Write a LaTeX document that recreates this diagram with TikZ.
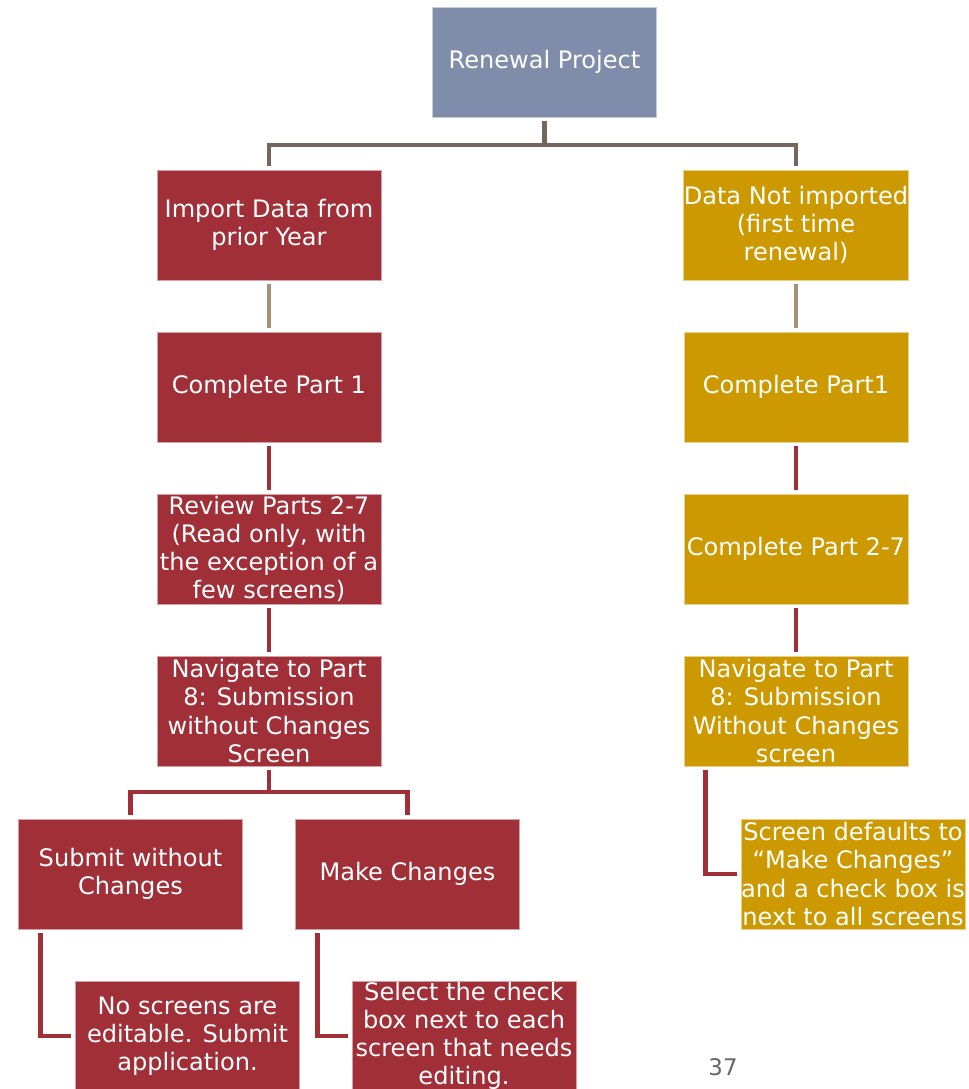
\documentclass[tikz,border=0pt]{standalone}
\usepackage{fontspec}
\setmainfont{DejaVu Sans}
\usepackage{xcolor}
\usepackage{tikz}

\definecolor{boxred}{HTML}{A12F38}
\definecolor{boxgold}{HTML}{CC9900}
\definecolor{boxslate}{HTML}{7F8CAA}
\definecolor{linebrown}{HTML}{76655A}
\definecolor{linetan}{HTML}{A89074}

\begin{document}
\begin{tikzpicture}[x=0.02cm, y=-0.02cm,
  box/.style={rectangle, fill=#1, draw=white!55!#1, line width=0.4pt,
    minimum width=4.48cm, minimum height=2.2cm, inner sep=0pt, outer sep=2.4pt,
    align=center, text=white, font=\fontsize{13.7}{16}\selectfont},
  link/.style={draw=#1, line width=2.7pt}]
  \useasboundingbox (0,0) rectangle (969,1089);
  % top of the tree
  \node[box=boxslate] (root) at (544.5,62) {Renewal Project};
  \coordinate (fork) at (544.5,145);
  % the imported branch
  \node[box=boxred] (imp) at (269,225) {Import Data from\\prior Year};
  \node[box=boxred] (cpa) at (269,387) {Complete Part 1};
  \node[box=boxred] (rev) at (269,549) {Review Parts 2-7\\(Read only, with\\the exception of a\\few screens)};
  \node[box=boxred] (navl) at (269,711) {Navigate to Part\\8: Submission\\without Changes\\Screen};
  \coordinate (forkl) at (269,792);
  \node[box=boxred] (sub) at (130.5,874) {Submit without\\Changes};
  \node[box=boxred] (mk) at (407.5,874) {Make Changes};
  \node[box=boxred] (nos) at (187.5,1036) {No screens are\\editable. Submit\\application.};
  \node[box=boxred] (sel) at (464,1036) {Select the check\\box next to each\\screen that needs\\editing.};
  % the first time branch
  \node[box=boxgold] (dni) at (796,225) {Data Not imported\\(first time\\renewal)};
  \node[box=boxgold] (cpb) at (796,387) {Complete Part1};
  \node[box=boxgold] (cpc) at (796,549) {Complete Part 2-7};
  \node[box=boxgold] (navr) at (796,711) {Navigate to Part\\8: Submission\\Without Changes\\screen};
  \node[box=boxgold] (dft) at (853,874) {Screen defaults to\\“Make Changes”\\and a check box is\\next to all screens};
  % connectors
  \draw[link=linebrown] (root.south) -- (fork) -| (imp.north);
  \draw[link=linebrown] (fork) -| (dni.north);
  \draw[link=linetan] (imp) -- (cpa);
  \draw[link=linetan] (dni) -- (cpb);
  \draw[link=boxred] (cpa) -- (rev);
  \draw[link=boxred] (rev) -- (navl);
  \draw[link=boxred] (cpb) -- (cpc);
  \draw[link=boxred] (cpc) -- (navr);
  \draw[link=boxred] (navl.south) -- (forkl) -| (sub.north);
  \draw[link=boxred] (forkl) -| (mk.north);
  \draw[link=boxred] ([xshift=0.52cm]sub.south west) |- (nos.west);
  \draw[link=boxred] ([xshift=0.52cm]mk.south west) |- (sel.west);
  \draw[link=boxred] ([xshift=0.52cm]navr.south west) |- (dft.west);
  % page number
  \node[text=black!60, font=\fontsize{13}{16}\selectfont] (pagenum) at (723,1067) {37};
\end{tikzpicture}
\end{document}
